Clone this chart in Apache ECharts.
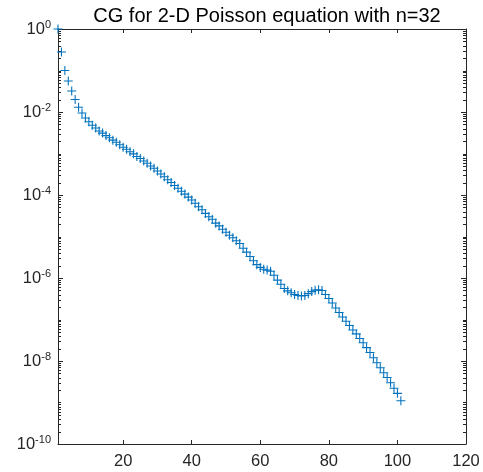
<!DOCTYPE html>
<html>
<head>
<meta charset="utf-8">
<script src="https://cdn.jsdelivr.net/npm/echarts@6/dist/echarts.min.js"></script>
<style>html,body{margin:0;padding:0;background:#fff;}#c{width:483px;height:472px;}</style>
</head>
<body>
<div id="c"></div>
<script>
// Residual norm per CG iteration (iterations 1..101)
const residual = [
  1, 0.28, 1.0e-1, 5.6e-2, 3.2e-2, 2.0e-2, 1.3e-2, 9.5e-3, 7.2e-3, 5.8e-3,
  4.8e-3, 4.1e-3, 3.5e-3, 3.1e-3, 2.7e-3, 2.4e-3, 2.1e-3, 1.86e-3, 1.62e-3, 1.41e-3,
  1.26e-3, 1.10e-3, 9.8e-4, 8.5e-4, 7.6e-4, 6.6e-4, 5.8e-4, 5.0e-4, 4.4e-4, 3.8e-4,
  3.2e-4, 2.75e-4, 2.34e-4, 2.0e-4, 1.7e-4, 1.45e-4, 1.23e-4, 1.05e-4, 8.9e-5, 7.6e-5,
  6.3e-5, 5.2e-5, 4.4e-5, 3.6e-5, 3.0e-5, 2.6e-5, 2.1e-5, 1.8e-5, 1.5e-5, 1.26e-5,
  1.07e-5, 9.3e-6, 7.9e-6, 6.8e-6, 5.2e-6, 4.2e-6, 3.3e-6, 2.6e-6, 2.1e-6, 1.8e-6,
  1.62e-6, 1.55e-6, 1.45e-6, 1.17e-6, 8.9e-7, 7.1e-7, 5.6e-7, 4.9e-7, 4.4e-7, 4.0e-7,
  3.8e-7, 3.7e-7, 3.8e-7, 4.2e-7, 4.7e-7, 5.1e-7, 5.2e-7, 5.0e-7, 4.0e-7, 3.2e-7,
  2.5e-7, 1.9e-7, 1.48e-7, 1.15e-7, 9.1e-8, 7.2e-8, 5.6e-8, 4.5e-8, 3.5e-8, 2.75e-8,
  2.1e-8, 1.6e-8, 1.2e-8, 9.1e-9, 6.9e-9, 5.2e-9, 4.0e-9, 3.0e-9, 2.2e-9, 1.66e-9,
  1.1e-9
];
const xTicks = [20, 40, 60, 80, 100, 120];
const xRange = [1, 120];
const yRange = [1e-10, 1];
const titleText = 'CG for 2-D Poisson equation with n=32';

const points = residual.map((v, i) => [i + 1, v]);

// minor tick positions on the log axis (2..9 x 10^k and odd decades)
const minorTicks = [];
for (let e = -10; e < 0; e++) {
  for (let k = 2; k <= 9; k++) minorTicks.push(k * Math.pow(10, e));
  if ((e + 10) % 2 === 1) minorTicks.push(Math.pow(10, e));
}

const AX = '#262626';
const FONT = 'Liberation Sans, Arial, Helvetica, sans-serif';

const chart = echarts.init(document.getElementById('c'), null, {renderer: 'canvas'});
chart.setOption({
  animation: false,
  backgroundColor: '#fff',
  title: {
    text: titleText, left: 262, top: 1, textAlign: 'center',
    textStyle: {fontFamily: FONT, fontSize: 20, fontWeight: 'normal', color: '#000'}
  },
  grid: {left: 58, right: 17, top: 29, bottom: 28, containLabel: false},
  xAxis: [{
    type: 'value', min: xRange[0], max: xRange[1], position: 'bottom',
    axisLine: {show: true, lineStyle: {color: AX, width: 1}},
    axisTick: {show: true, inside: true, length: 4, customValues: xTicks, lineStyle: {color: AX}},
    axisLabel: {show: true, customValues: xTicks, margin: 9, color: AX, fontFamily: FONT, fontSize: 16.5},
    splitLine: {show: false}
  }, {
    type: 'value', min: xRange[0], max: xRange[1], position: 'top',
    axisLine: {show: true, onZero: false, lineStyle: {color: AX, width: 1}},
    axisTick: {show: true, inside: true, length: 4, customValues: xTicks, lineStyle: {color: AX}},
    axisLabel: {show: false},
    splitLine: {show: false}
  }],
  yAxis: [{
    type: 'log', logBase: 10, min: yRange[0], max: yRange[1], interval: 2, position: 'left',
    axisLine: {show: true, onZero: false, lineStyle: {color: AX, width: 1}},
    axisTick: {show: true, inside: true, length: 5, lineStyle: {color: AX}},
    axisLabel: {
      show: true, margin: 7, color: AX,
      formatter: function (v) {
        const e = Math.round(Math.log10(v));
        return '{b|10}{s|' + e + '}';
      },
      rich: {
        b: {fontFamily: FONT, fontSize: 16.5, color: AX},
        s: {fontFamily: FONT, fontSize: 11, color: AX, padding: [0, 0, 9, 0]}
      }
    },
    splitLine: {show: false}
  }, {
    type: 'log', logBase: 10, min: yRange[0], max: yRange[1], interval: 2, position: 'right',
    axisLine: {show: true, onZero: false, lineStyle: {color: AX, width: 1}},
    axisTick: {show: true, inside: true, length: 5, lineStyle: {color: AX}},
    axisLabel: {show: false},
    splitLine: {show: false}
  }],
  series: [{
    type: 'custom',
    xAxisIndex: 0, yAxisIndex: 0,
    silent: true,
    clip: false,
    data: minorTicks.map(v => [xRange[0], v]),
    encode: {x: 0, y: 1},
    renderItem: function (params, api) {
      const v = api.value(1);
      const pL = api.coord([xRange[0], v]);
      const pR = api.coord([xRange[1], v]);
      const y = Math.round(pL[1]) + 0.5;
      return {
        type: 'group',
        children: [
          {type: 'line', shape: {x1: pL[0], y1: y, x2: pL[0] + 3, y2: y}, style: {stroke: AX, lineWidth: 1}},
          {type: 'line', shape: {x1: pR[0], y1: y, x2: pR[0] - 3, y2: y}, style: {stroke: AX, lineWidth: 1}}
        ]
      };
    }
  }, {
    type: 'scatter',
    xAxisIndex: 0, yAxisIndex: 0,
    data: points,
    symbol: 'path://M4.4,0H5.6V4.4H10V5.6H5.6V10H4.4V5.6H0V4.4H4.4Z',
    symbolSize: 9,
    itemStyle: {color: '#0072BD', opacity: 1},
    clip: false
  }]
});
</script>
</body>
</html>
